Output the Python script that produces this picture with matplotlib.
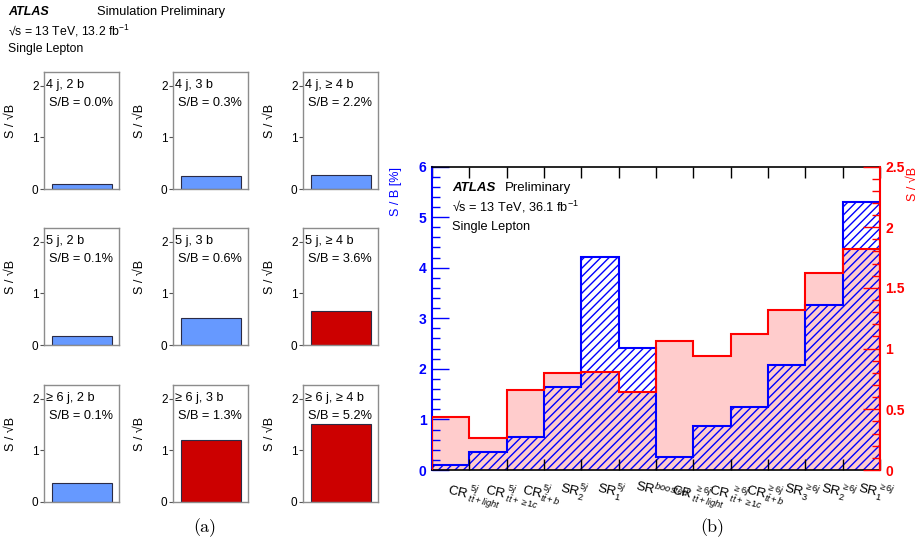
import numpy as np
import matplotlib
matplotlib.use("Agg")
import matplotlib.pyplot as plt

plt.rcParams['font.family'] = ['Liberation Sans', 'DejaVu Sans']
plt.rcParams['mathtext.fontset'] = 'custom'
plt.rcParams['mathtext.rm'] = 'Liberation Sans'
plt.rcParams['mathtext.it'] = 'Liberation Sans:italic'
plt.rcParams['mathtext.bf'] = 'Liberation Sans:bold'
plt.rcParams['hatch.linewidth'] = 1.0

# ---- (a) jet / b-tag categories, 13.2 fb-1 ----
jet_bins = ["4 j", "5 j", "≥ 6 j"]
btag_bins = ["2 b", "3 b", "≥ 4 b"]
sb_percent_a = [[0.0, 0.3, 2.2],
                [0.1, 0.6, 3.6],
                [0.1, 1.3, 5.2]]
s_over_sqrtb_a = [[0.10, 0.25, 0.28],
                  [0.17, 0.53, 0.65],
                  [0.37, 1.20, 1.51]]
signal_rich_a = [[False, False, False],
                 [False, False, True],
                 [False, True, True]]

# ---- (b) fit regions, 36.1 fb-1 ----
region_labels = [
    r"$\mathrm{CR}^{\ 5j}_{\ t\bar{t}+light}$",
    r"$\mathrm{CR}^{\ 5j}_{\ t\bar{t}+\geq 1c}$",
    r"$\mathrm{CR}^{5j}_{t\bar{t}+b}$",
    r"$\mathrm{SR}^{5j}_{2}$",
    r"$\mathrm{SR}^{5j}_{1}$",
    r"$\mathrm{SR}^{boosted}$",
    r"$\mathrm{CR}^{\ \geq 6j}_{\ t\bar{t}+light}$",
    r"$\mathrm{CR}^{\ \geq 6j}_{\ t\bar{t}+\geq 1c}$",
    r"$\mathrm{CR}^{\geq 6j}_{t\bar{t}+b}$",
    r"$\mathrm{SR}^{\geq 6j}_{3}$",
    r"$\mathrm{SR}^{\geq 6j}_{2}$",
    r"$\mathrm{SR}^{\geq 6j}_{1}$",
]
sb_percent_b = [0.10, 0.36, 0.66, 1.64, 4.22, 2.42, 0.26, 0.87, 1.25, 2.08, 3.27, 5.30]
s_over_sqrtb_b = [0.44, 0.26, 0.66, 0.80, 0.81, 0.64, 1.06, 0.94, 1.12, 1.32, 1.62, 1.82]

W, H = 919, 545
fig = plt.figure(figsize=(W / 100, H / 100), dpi=100)
fig.patch.set_facecolor('white')


def px_axes(x0, y0, x1, y1):
    """Axes from pixel box (top-left origin)."""
    return fig.add_axes([x0 / W, 1 - y1 / H, (x1 - x0) / W, (y1 - y0) / H])


# ---------------- panel (a) ----------------
fig.text(8 / W, 1 - 12 / H, "ATLAS", fontsize=9, fontweight='bold', fontstyle='italic', va='center')
fig.text(97 / W, 1 - 12 / H, "Simulation Preliminary", fontsize=9.3, va='center')
fig.text(8 / W, 1 - 31 / H, r"√s = 13 TeV, 13.2 fb$^{-1}$", fontsize=8.8, va='center')
fig.text(8 / W, 1 - 49 / H, "Single Lepton", fontsize=8.8, va='center')

col_x = [44, 173, 303]
row_top = [72, 228, 385]
box_w, box_h = 75, 117
for r in range(3):
    for c in range(3):
        x0, y0 = col_x[c], row_top[r]
        ax = px_axes(x0, y0, x0 + box_w, y0 + box_h)
        color = '#cc0000' if signal_rich_a[r][c] else '#6699ff'
        ax.bar([0.5], [s_over_sqrtb_a[r][c]], width=0.8, color=color,
               edgecolor='#2b2b45', linewidth=0.8)
        ax.set_xlim(0, 1)
        ax.set_ylim(0, 2.27)
        ax.set_xticks([])
        ax.set_yticks([0, 1, 2])
        ax.tick_params(axis='y', direction='out', length=3, width=0.8,
                       pad=1, labelsize=8.5, color='#555555')
        for s in ax.spines.values():
            s.set_color('#8c8c8c')
            s.set_linewidth(1.0)
        ax.set_ylabel("S / √B", fontsize=9)
        ax.yaxis.set_label_coords(-0.36, 0.58)
        ax.text(0.03, 1 - 13 / box_h, f"{jet_bins[r]}, {btag_bins[c]}",
                transform=ax.transAxes, ha='left', va='center', fontsize=9.2)
        ax.text(0.07, 1 - 31 / box_h, f"S/B = {sb_percent_a[r][c]:.1f}%",
                transform=ax.transAxes, ha='left', va='center', fontsize=9.2)

fig.text(205 / W, 1 - 528 / H, "(a)", fontsize=13, family='cmr10', ha='center', va='center')

# ---------------- panel (b) ----------------
edges = np.arange(len(region_labels) + 1)
centers = edges[:-1] + 0.5

axL = px_axes(432, 166.5, 880, 470)
axR = axL.twinx()   # pink fill (S/sqrt(B))
axT = axL.twinx()   # red outline and right-hand axis
axR.set_zorder(1)
axL.set_zorder(2)
axT.set_zorder(3)
axL.patch.set_visible(False)
axT.patch.set_visible(False)

axR.stairs(s_over_sqrtb_b, edges, fill=True, facecolor='#ffcccc', edgecolor='none')
axL.stairs(sb_percent_b, edges, fill=True, facecolor='none', edgecolor='#0000ff',
           hatch='////', linewidth=1.5)
axT.stairs(s_over_sqrtb_b, edges, fill=False, edgecolor='#ff0000', linewidth=1.5)

axL.set_xlim(0, len(region_labels))
axL.set_ylim(0, 6)
axR.set_ylim(0, 2.5)
axT.set_ylim(0, 2.5)

# x axis: bin-edge ticks top and bottom, labels at bin centres
axL.set_xticks(edges)
axL.tick_params(axis='x', which='major', direction='in', length=8, width=1,
                top=True, bottom=True, labelbottom=False, color='black')
axL.set_xticks(centers, minor=True)
axL.set_xticklabels(region_labels, minor=True, rotation=-13, ha='left', va='top',
                    rotation_mode='anchor', fontsize=9.5)
axL.tick_params(axis='x', which='minor', length=0, pad=5)

# left axis: S/B in percent
left_major = [0, 1, 2, 3, 4, 5, 6]
axL.set_yticks(left_major, labels=[str(v) for v in left_major], fontweight='bold')
axL.set_yticks(np.arange(0, 6.01, 0.2), minor=True)
axL.tick_params(axis='y', which='both', direction='in', color='#0000ff',
                labelcolor='#0000ff', labelsize=10, width=1, pad=4)
axL.tick_params(axis='y', which='major', length=12)
axL.tick_params(axis='y', which='minor', length=6)
axL.spines['left'].set_color('#0000ff')
axL.spines['left'].set_linewidth(1.5)
axL.spines['right'].set_visible(False)
axL.spines['top'].set_color('black')
axL.spines['bottom'].set_color('black')
axL.spines['top'].set_linewidth(1.2)
axL.spines['bottom'].set_linewidth(1.2)
axL.set_ylabel("S / B [%]", color='#0000ff', fontsize=9, loc='top')
axL.yaxis.set_label_coords(-0.066, 1.0)

# right axis: S/sqrt(B)
for s in axR.spines.values():
    s.set_visible(False)
axR.tick_params(axis='y', which='both', right=False, labelright=False)

right_major = [0, 0.5, 1, 1.5, 2, 2.5]
axT.set_yticks(right_major, labels=['0', '0.5', '1', '1.5', '2', '2.5'], fontweight='bold')
axT.set_yticks(np.arange(0, 2.51, 0.1), minor=True)
axT.tick_params(axis='y', which='both', direction='in', color='#ff0000',
                labelcolor='#ff0000', labelsize=10, width=1, pad=4)
axT.tick_params(axis='y', which='major', length=12)
axT.tick_params(axis='y', which='minor', length=6)
for side in ['left', 'top', 'bottom']:
    axT.spines[side].set_visible(False)
axT.spines['right'].set_color('#ff0000')
axT.spines['right'].set_linewidth(1.5)
axT.set_ylabel("S / √B", color='#ff0000', fontsize=9, loc='top')
axT.yaxis.set_label_coords(1.06, 1.0)

axL.text(20 / 448, (470 - 188) / 303.5, "ATLAS", transform=axL.transAxes,
         fontsize=9.5, fontweight='bold', fontstyle='italic', va='center')
axL.text(73 / 448, (470 - 188) / 303.5, "Preliminary", transform=axL.transAxes,
         fontsize=9.5, va='center')
axL.text(20 / 448, (470 - 207) / 303.5, r"√s = 13 TeV, 36.1 fb$^{-1}$",
         transform=axL.transAxes, fontsize=9.2, va='center')
axL.text(20 / 448, (470 - 227) / 303.5, "Single Lepton", transform=axL.transAxes,
         fontsize=9.2, va='center')

fig.text(712 / W, 1 - 528 / H, "(b)", fontsize=13, family='cmr10', ha='center', va='center')

fig.savefig("out.png", dpi=100, facecolor='white')
